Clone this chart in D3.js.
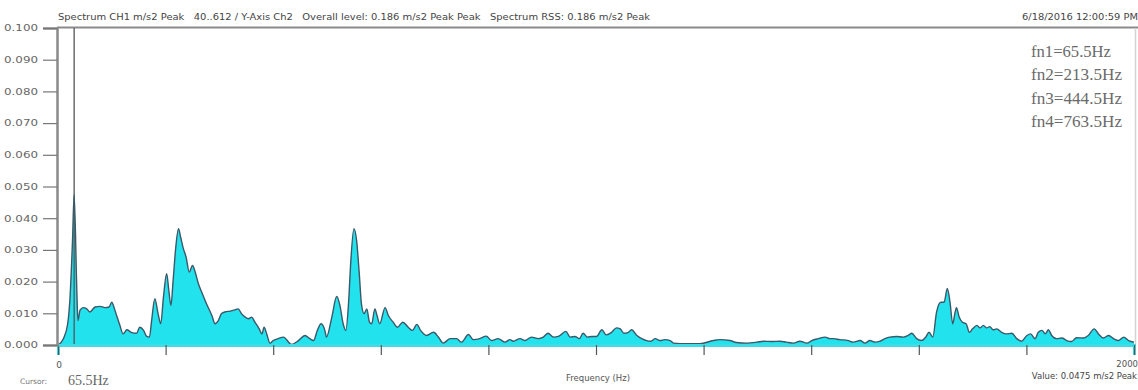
<!DOCTYPE html>
<html>
<head>
<meta charset="utf-8">
<script src="https://cdn.jsdelivr.net/npm/d3@7"></script>
<style>
  html, body { margin: 0; padding: 0; background: #ffffff; }
  svg { display: block; }
  .pre { white-space: pre; }
</style>
</head>
<body>
<svg id="chart" width="1138" height="390"></svg>
<script>
// Spectrum samples: frequency (Hz) and peak amplitude (m/s2)
const freqHz = [
  0, 10, 18, 22, 27, 30, 35, 37, 41, 47, 53, 59, 69, 78, 87, 95, 100, 105, 109, 115,
  121, 128, 136, 146, 152, 159, 165, 170, 174, 180, 186, 191, 196, 202, 206, 210, 214, 219, 224, 228,
  233, 238, 244, 250, 255, 261, 267, 276, 286, 292, 298, 304, 310, 320, 329, 335, 341, 348, 354, 360,
  366, 374, 379, 383, 388, 394, 400, 409, 419, 434, 447, 459, 468, 475, 482, 489, 496, 499, 509, 518,
  524, 530, 535, 540, 544, 550, 555, 560, 564, 569, 574, 579, 583, 589, 593, 598, 608, 614, 623, 631,
  641, 651, 659, 667, 674, 685, 698, 707, 716, 729, 741, 750, 763, 772, 784, 796, 806, 818, 831, 840,
  846, 859, 868, 880, 893, 902, 911, 921, 930, 944, 952, 961, 969, 976, 984, 992, 1001, 1011, 1019, 1029,
  1038, 1045, 1052, 1060, 1066, 1076, 1085, 1094, 1102, 1110, 1119, 1128, 1138, 1144, 1169, 1193, 1218, 1230, 1249, 1261,
  1280, 1299, 1311, 1327, 1342, 1354, 1367, 1379, 1392, 1401, 1413, 1426, 1435, 1441, 1453, 1469, 1478, 1491, 1500, 1509,
  1519, 1528, 1537, 1546, 1559, 1571, 1580, 1587, 1596, 1605, 1613, 1619, 1626, 1633, 1641, 1647, 1653, 1658, 1663, 1667,
  1670, 1675, 1681, 1688, 1694, 1700, 1708, 1714, 1720, 1726, 1732, 1738, 1745, 1754, 1763, 1773, 1782, 1791, 1801, 1808,
  1816, 1822, 1829, 1835, 1841, 1847, 1856, 1866, 1875, 1884, 1893, 1906, 1915, 1926, 1934, 1943, 1953, 1962, 1971, 1981,
  1990, 2000
];
const amplitude = [
  0.0000, 0.0020, 0.0067, 0.0140, 0.0330, 0.0475, 0.0172, 0.0077, 0.0110, 0.0118, 0.0115, 0.0104, 0.0120, 0.0122, 0.0118, 0.0120, 0.0135, 0.0114, 0.0093, 0.0062,
  0.0035, 0.0048, 0.0040, 0.0037, 0.0056, 0.0046, 0.0027, 0.0025, 0.0077, 0.0146, 0.0099, 0.0067, 0.0151, 0.0225, 0.0172, 0.0125, 0.0204, 0.0310, 0.0367, 0.0340,
  0.0304, 0.0278, 0.0230, 0.0251, 0.0230, 0.0193, 0.0167, 0.0130, 0.0093, 0.0067, 0.0077, 0.0099, 0.0104, 0.0107, 0.0111, 0.0114, 0.0099, 0.0088, 0.0083, 0.0088,
  0.0072, 0.0051, 0.0035, 0.0056, 0.0035, 0.0006, 0.0014, 0.0020, 0.0025, 0.0002, 0.0014, 0.0030, 0.0020, 0.0014, 0.0046, 0.0067, 0.0046, 0.0025, 0.0088, 0.0153,
  0.0125, 0.0067, 0.0046, 0.0130, 0.0257, 0.0367, 0.0330, 0.0225, 0.0130, 0.0099, 0.0114, 0.0072, 0.0067, 0.0114, 0.0093, 0.0067, 0.0118, 0.0093, 0.0072, 0.0056,
  0.0072, 0.0056, 0.0046, 0.0065, 0.0046, 0.0030, 0.0040, 0.0025, 0.0006, 0.0020, 0.0020, 0.0009, 0.0033, 0.0017, 0.0020, 0.0028, 0.0014, 0.0020, 0.0009, 0.0017,
  0.0012, 0.0020, 0.0014, 0.0025, 0.0020, 0.0025, 0.0037, 0.0025, 0.0027, 0.0043, 0.0025, 0.0027, 0.0020, 0.0037, 0.0025, 0.0027, 0.0027, 0.0048, 0.0032, 0.0040,
  0.0054, 0.0051, 0.0037, 0.0040, 0.0048, 0.0030, 0.0020, 0.0014, 0.0012, 0.0020, 0.0014, 0.0017, 0.0014, 0.0006, 0.0004, 0.0004, 0.0014, 0.0017, 0.0014, 0.0008,
  0.0006, 0.0009, 0.0012, 0.0011, 0.0012, 0.0009, 0.0006, 0.0012, 0.0006, 0.0014, 0.0020, 0.0025, 0.0020, 0.0020, 0.0017, 0.0014, 0.0009, 0.0014, 0.0006, 0.0014,
  0.0009, 0.0012, 0.0020, 0.0025, 0.0027, 0.0025, 0.0030, 0.0037, 0.0020, 0.0014, 0.0025, 0.0040, 0.0025, 0.0104, 0.0135, 0.0135, 0.0178, 0.0135, 0.0067, 0.0099,
  0.0118, 0.0088, 0.0072, 0.0067, 0.0040, 0.0051, 0.0062, 0.0054, 0.0062, 0.0054, 0.0058, 0.0048, 0.0051, 0.0040, 0.0035, 0.0037, 0.0020, 0.0012, 0.0030, 0.0035,
  0.0020, 0.0040, 0.0046, 0.0035, 0.0048, 0.0030, 0.0020, 0.0022, 0.0014, 0.0011, 0.0023, 0.0022, 0.0030, 0.0051, 0.0035, 0.0022, 0.0030, 0.0020, 0.0014, 0.0025,
  0.0014, 0.0009
];

// Axis ticks and labels
const yTicks = [0, 0.01, 0.02, 0.03, 0.04, 0.05, 0.06, 0.07, 0.08, 0.09, 0.10];
const xTicks = [0, 200, 400, 600, 800, 1000, 1200, 1400, 1600, 1800, 2000];
const xEndLabels = ["0", "2000"];

// Text blocks
const headerText = "Spectrum CH1 m/s2 Peak   40..612 / Y-Axis Ch2   Overall level: 0.186 m/s2 Peak Peak   Spectrum RSS: 0.186 m/s2 Peak";
const dateText = "6/18/2016 12:00:59 PM";
const naturalFreqs = ["fn1=65.5Hz", "fn2=213.5Hz", "fn3=444.5Hz", "fn4=763.5Hz"];
const cursorLabel = "Cursor:";
const cursorText = "65.5Hz";
const xTitle = "Frequency (Hz)";
const valueText = "Value: 0.0475 m/s2 Peak";

const svg = d3.select("#chart");
const plotLeft = 58, plotRight = 1134, plotTop = 28, plotBottom = 345;

const x = d3.scaleLinear().domain([0, 2000]).range([plotLeft, plotRight]);
const y = d3.scaleLinear().domain([0, 0.1]).range([plotBottom, plotTop]);

const data = freqHz.map((f, i) => ({ f, v: amplitude[i] }));

// header line and frame
svg.append("line").attr("x1", plotLeft - 1).attr("x2", 1138).attr("y1", plotTop - 0.5).attr("y2", plotTop - 0.5)
  .attr("stroke", "#8a8a8a").attr("stroke-width", 2);
svg.append("line").attr("x1", plotRight + 1.5).attr("x2", plotRight + 1.5).attr("y1", plotTop).attr("y2", plotBottom)
  .attr("stroke", "#d4d4d4").attr("stroke-width", 1.5);

svg.append("text").attr("class", "pre").attr("x", 58).attr("y", 20)
  .attr("font-family", "DejaVu Sans, sans-serif").attr("font-size", 8.5).attr("fill", "#444")
  .attr("textLength", 592).attr("lengthAdjust", "spacingAndGlyphs")
  .text(headerText);
svg.append("text").attr("x", 1022).attr("y", 20)
  .attr("font-family", "DejaVu Sans, sans-serif").attr("font-size", 8.5).attr("fill", "#444")
  .attr("textLength", 116).attr("lengthAdjust", "spacingAndGlyphs")
  .text(dateText);

// spectrum area
const area = d3.area().x(d => x(d.f)).y0(y(0)).y1(d => y(d.v)).curve(d3.curveMonotoneX);
const line = d3.line().x(d => x(d.f)).y(d => y(d.v)).curve(d3.curveMonotoneX);

svg.append("path").datum(data).attr("d", area).attr("fill", "#22e2ee");

// cursor line at the dominant peak
const peak = data.reduce((a, b) => (b.v > a.v ? b : a));
svg.append("line").attr("x1", x(peak.f)).attr("x2", x(peak.f)).attr("y1", plotTop).attr("y2", plotBottom)
  .attr("stroke", "#555").attr("stroke-width", 1.3);

svg.append("path").datum(data).attr("d", line)
  .attr("fill", "none").attr("stroke", "#3b5868").attr("stroke-width", 1.4);

// x axis
const xAxis = svg.append("g").attr("transform", `translate(0,${plotBottom})`)
  .call(d3.axisBottom(x).tickValues(xTicks).tickSize(10).tickFormat(""));
xAxis.select(".domain").attr("stroke", "#3fdbe6").attr("stroke-width", 3);
xAxis.selectAll(".tick line").attr("stroke", "#555").attr("stroke-width", 1.2);

svg.append("text").attr("x", x(xTicks[0]) + 1).attr("y", 368).attr("text-anchor", "middle")
  .attr("font-family", "DejaVu Sans, sans-serif").attr("font-size", 9).attr("fill", "#555")
  .text(xEndLabels[0]);
svg.append("text").attr("x", 1138).attr("y", 367).attr("text-anchor", "end")
  .attr("font-family", "DejaVu Sans, sans-serif").attr("font-size", 8.5).attr("fill", "#555")
  .text(xEndLabels[1]);

// y axis
const yAxis = svg.append("g").attr("transform", `translate(${plotLeft - 1},0)`)
  .call(d3.axisLeft(y).tickValues(yTicks).tickSize(14).tickPadding(5).tickFormat(d3.format(".3f")));
yAxis.select(".domain").attr("stroke", "#8a8a8a").attr("stroke-width", 2.5);
yAxis.selectAll(".tick line").attr("stroke", "#777").attr("stroke-width", 1.2);
yAxis.selectAll(".tick text")
  .attr("font-family", "DejaVu Sans, sans-serif").attr("font-size", 9).attr("fill", "#666")
  .attr("textLength", 34).attr("lengthAdjust", "spacingAndGlyphs");

// natural frequency notes
svg.append("g").selectAll("text").data(naturalFreqs).join("text")
  .attr("x", 1031).attr("y", (d, i) => 57 + i * 23.3)
  .attr("font-family", "Liberation Serif, Times New Roman, serif").attr("font-size", 16).attr("fill", "#6a6a6a")
  .attr("textLength", (d, i) => (i === 0 ? 80 : 91)).attr("lengthAdjust", "spacingAndGlyphs")
  .text(d => d);

// footer
svg.append("text").attr("x", 20).attr("y", 384)
  .attr("font-family", "DejaVu Sans, sans-serif").attr("font-size", 7.5).attr("fill", "#777")
  .text(cursorLabel);
svg.append("text").attr("x", 68).attr("y", 385)
  .attr("font-family", "Liberation Serif, Times New Roman, serif").attr("font-size", 14).attr("fill", "#666")
  .text(cursorText);
svg.append("text").attr("x", 566).attr("y", 381)
  .attr("font-family", "DejaVu Sans, sans-serif").attr("font-size", 8).attr("fill", "#555")
  .attr("textLength", 64).attr("lengthAdjust", "spacingAndGlyphs")
  .text(xTitle);
svg.append("text").attr("x", 1137).attr("y", 379).attr("text-anchor", "end")
  .attr("font-family", "DejaVu Sans, sans-serif").attr("font-size", 8.5).attr("fill", "#444")
  .text(valueText);
</script>
</body>
</html>
